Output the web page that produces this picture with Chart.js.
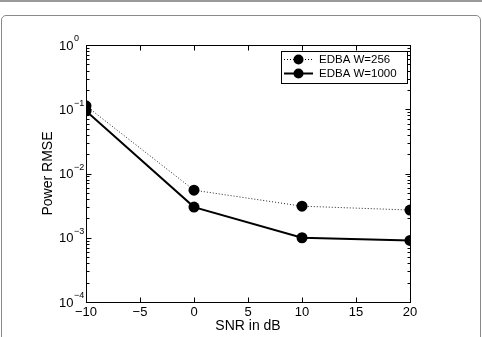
<!DOCTYPE html>
<html>
<head>
<meta charset="utf-8">
<script src="https://cdn.jsdelivr.net/npm/chart.js@4"></script>
<style>
  html, body { margin: 0; padding: 0; background: #fff; }
  #wrap { position: relative; width: 482px; height: 337px; overflow: hidden; }
  #topline { position: absolute; left: 0; top: 0; width: 482px; height: 2px; background: #9a9a9a; }
  #frame { position: absolute; left: 1px; top: 15px; width: 478px; height: 340px;
           border: 1px solid #8a8a8a; border-radius: 5px; }
  canvas { position: absolute; left: 0; top: 0; }
</style>
</head>
<body>
<div id="wrap">
  <div id="topline"></div>
  <div id="frame"></div>
  <canvas id="chart" width="482" height="337"></canvas>
</div>
<script>
const snr = [-10, 0, 10, 20];
const rmseW256 = [0.113, 0.0055, 0.0031, 0.0027];
const rmseW1000 = [0.094, 0.0030, 0.00100, 0.00091];
const seriesNames = ['EDBA W=256', 'EDBA W=1000'];
const xTicks = [-10, -5, 0, 5, 10, 15, 20];
const yDecades = [-4, -3, -2, -1, 0];

const FONT = '"Liberation Sans", Arial, Helvetica, sans-serif';

function toPoints(values) {
    return snr.map((x, i) => ({ x: x, y: values[i] }));
}

// box, inward ticks, y labels with exponents and the legend
const matlabAxes = {
    id: 'matlabAxes',
    afterDraw(chart) {
        const ctx = chart.ctx;
        const a = chart.chartArea;
        const xs = chart.scales.x;
        const ys = chart.scales.y;
        const L = Math.round(a.left) + 0.5, R = Math.round(a.right) + 0.5;
        const T = Math.round(a.top) + 0.5, B = Math.round(a.bottom) + 0.5;
        ctx.save();
        ctx.strokeStyle = '#000';
        ctx.lineWidth = 1;
        ctx.strokeRect(L, T, R - L, B - T);

        ctx.beginPath();
        xTicks.forEach(v => {
            const px = Math.round(xs.getPixelForValue(v)) + 0.5;
            ctx.moveTo(px, B); ctx.lineTo(px, B - 5);
            ctx.moveTo(px, T); ctx.lineTo(px, T + 5);
        });
        yDecades.forEach(d => {
            const py = Math.round(ys.getPixelForValue(Math.pow(10, d))) + 0.5;
            ctx.moveTo(L, py); ctx.lineTo(L + 5, py);
            ctx.moveTo(R, py); ctx.lineTo(R - 5, py);
            if (d < 0) {
                for (let k = 2; k <= 9; k++) {
                    const pm = Math.round(ys.getPixelForValue(k * Math.pow(10, d))) + 0.5;
                    ctx.moveTo(L, pm); ctx.lineTo(L + 3, pm);
                    ctx.moveTo(R, pm); ctx.lineTo(R - 3, pm);
                }
            }
        });
        ctx.stroke();

        // y tick labels 10^n
        ctx.fillStyle = '#000';
        ctx.textBaseline = 'middle';
        ctx.textAlign = 'left';
        yDecades.forEach(d => {
            const py = ys.getPixelForValue(Math.pow(10, d));
            ctx.font = '13px ' + FONT;
            ctx.fillText('10', 59, py + 1);
            const w = ctx.measureText('10').width;
            ctx.font = '9px ' + FONT;
            ctx.fillText(d < 0 ? '\u2212' + (-d) : String(d), 59 + w + 0.5, py - 6);
        });

        // legend
        const lx = 281.5, ly = 51.5, lw = 126, lh = 32;
        ctx.fillStyle = '#fff';
        ctx.fillRect(lx, ly, lw, lh);
        ctx.strokeStyle = '#000';
        ctx.strokeRect(lx, ly, lw, lh);
        chart.data.datasets.forEach((ds, i) => {
            const cy = 59.5 + i * 14;
            ctx.strokeStyle = '#000';
            ctx.lineWidth = ds.borderWidth;
            ctx.setLineDash(ds.borderDash || []);
            ctx.beginPath();
            ctx.moveTo(284, cy); ctx.lineTo(313, cy);
            ctx.stroke();
            ctx.setLineDash([]);
            ctx.beginPath();
            ctx.arc(298.5, cy, 5, 0, Math.PI * 2);
            ctx.fillStyle = '#000';
            ctx.fill();
            ctx.font = '11.5px ' + FONT;
            ctx.textAlign = 'left';
            ctx.textBaseline = 'middle';
            ctx.fillText(ds.label, 319, cy + 0.5);
        });
        ctx.restore();
    }
};

new Chart(document.getElementById('chart').getContext('2d'), {
    type: 'line',
    data: {
        datasets: [{
            label: seriesNames[0],
            data: toPoints(rmseW256),
            borderColor: '#222',
            borderWidth: 1,
            borderDash: [1, 2],
            pointRadius: 5.5,
            pointBackgroundColor: '#000',
            pointBorderWidth: 0
        }, {
            label: seriesNames[1],
            data: toPoints(rmseW1000),
            borderColor: '#000',
            borderWidth: 2,
            pointRadius: 5.5,
            pointBackgroundColor: '#000',
            pointBorderWidth: 0
        }]
    },
    options: {
        responsive: false,
        animation: false,
        layout: { padding: { left: 38, right: 72, top: 45, bottom: 0 } },
        plugins: { legend: { display: false }, tooltip: { enabled: false } },
        scales: {
            x: {
                type: 'linear',
                min: -10,
                max: 20,
                afterBuildTicks: (scale) => { scale.ticks = xTicks.map(v => ({ value: v })); },
                afterFit: (scale) => { scale.height = 35; },
                grid: { display: false, drawTicks: false },
                border: { display: false },
                ticks: {
                    padding: 3,
                    color: '#000',
                    font: { family: FONT, size: 13 },
                    callback: (v) => String(v).replace('-', '\u2212')
                },
                title: {
                    display: true,
                    text: 'SNR in dB',
                    color: '#000',
                    font: { family: FONT, size: 14 },
                    padding: { top: 0, bottom: 2 }
                }
            },
            y: {
                type: 'logarithmic',
                min: 1e-4,
                max: 1,
                afterFit: (scale) => { scale.width = 86 - 38; },
                grid: { display: false, drawTicks: false },
                border: { display: false },
                ticks: { display: false },
                title: {
                    display: true,
                    text: 'Power RMSE',
                    color: '#000',
                    font: { family: FONT, size: 14 },
                    padding: { top: 2, bottom: 0 }
                }
            }
        }
    },
    plugins: [matlabAxes]
});
</script>
</body>
</html>
